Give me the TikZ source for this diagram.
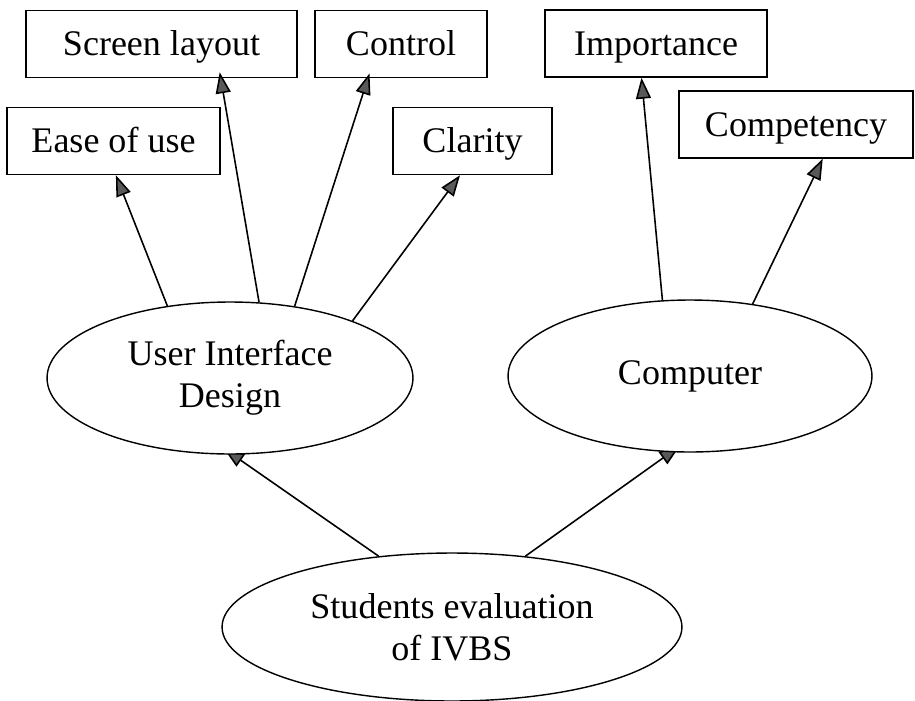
\documentclass[tikz,border=0pt]{standalone}
\usepackage{fontspec}
\setmainfont{Liberation Serif}
\usetikzlibrary{arrows.meta,shapes.geometric,backgrounds}

\begin{document}
\begin{tikzpicture}[x=0.02cm,y=-0.02cm,
  font=\fontsize{20.5}{24}\selectfont,
  box/.style={draw,line width=0.8pt,minimum height=1.34cm,inner sep=0pt,
    text height=15pt,text depth=1.5pt},
  oval/.style={draw,ellipse,line width=0.8pt,fill=white,inner sep=0pt,align=center},
  link/.style={line width=0.9pt,-{Triangle[length=0.42cm,width=0.3cm,fill=black!65]}}]
 \useasboundingbox (0,0) rectangle (915,700);
 % factor boxes
 \node[box,minimum width=5.42cm] (layout) at (161.5,44) {Screen layout};
 \node[box,minimum width=3.44cm] (control) at (401,44) {Control};
 \node[box,minimum width=4.26cm] (ease) at (113.5,141) {Ease of use};
 \node[box,minimum width=3.18cm] (clarity) at (472.5,141) {Clarity};
 \node[box,minimum width=4.44cm] (importance) at (656,43.5) {Importance};
 \node[box,minimum width=4.68cm] (competency) at (796,124.5) {Competency};
 % the three ellipses
 \node[oval,minimum width=7.32cm,minimum height=3.04cm] (uid) at (230,378) {User Interface\\Design};
 \node[oval,minimum width=7.28cm,minimum height=3.04cm] (computer) at (690,376) {Computer};
 \node[oval,minimum width=9.2cm,minimum height=2.96cm] (eval) at (452,627) {Students evaluation\\of IVBS};
 % arrows to the factors
 \draw[link] (uid.131) -- (ease.-86);
 \draw[link,shorten >=-0.12cm] (uid.69) -- (layout.-30);
 \draw[link,shorten >=-0.1cm] (uid.48) -- (control.-134);
 \draw[link] (uid.25) -- (clarity.-110);
 \draw[link] (computer.110) -- (importance.-113);
 \draw[link] (computer.49) -- (competency.-52.6);
 % arrows from the bottom ellipse, tips hidden under the ellipses
 \begin{scope}[on background layer]
  \draw[link,shorten >=-0.22cm] (eval.136) -- (uid.-88);
  \draw[link,shorten >=-0.22cm] (eval.44.6) -- (computer.-104);
 \end{scope}
\end{tikzpicture}
\end{document}
